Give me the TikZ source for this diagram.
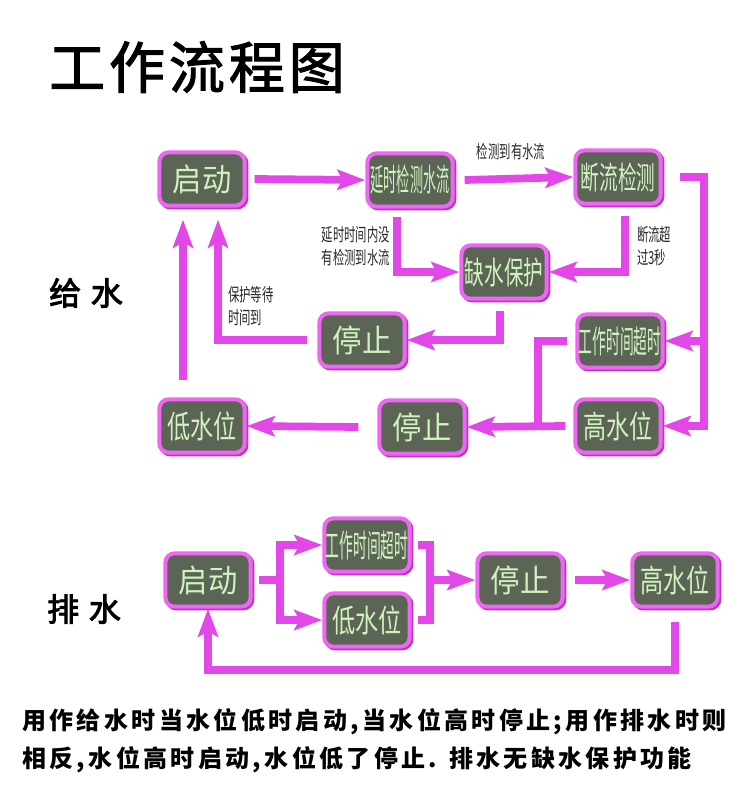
\documentclass[tikz,border=0pt]{standalone}
\usepackage{fontspec}
\usepackage{graphicx}
\usetikzlibrary{arrows.meta,calc}

\newfontfamily\cjk{Noto Sans CJK SC}
\newfontfamily\cjknarrow{Noto Sans CJK SC}[FakeStretch=0.63]
\newfontfamily\cjkspaced{Noto Sans CJK SC}[LetterSpace=14]
\newfontfamily\cjktitle{Noto Sans CJK SC}[LetterSpace=7,FakeBold=2]
\newfontfamily\cjkside{Noto Sans CJK SC}[FakeBold=3]

\definecolor{barmag}{RGB}{226,72,232}
\definecolor{boxmag}{RGB}{236,104,240}
\definecolor{boxshade}{RGB}{190,50,200}
\definecolor{boxfill}{RGB}{92,100,86}
\definecolor{boxtext}{RGB}{206,244,188}
\definecolor{notegray}{RGB}{40,40,40}

\newcommand\fitbox[2]{\resizebox{#1}{20pt}{#2}}

\tikzset{
  stage/.style={rectangle, rounded corners=7pt, draw=boxmag, line width=3pt,
    fill=boxfill, minimum width=64pt, minimum height=40pt, inner sep=0pt,
    text=boxtext, font=\cjk,
    preaction={draw=boxshade, line width=3pt, transform canvas={shift={(1.3pt,-1.3pt)}}}},
  bar/.style={draw=barmag, line width=5.8pt},
  flow/.style={bar, -{Stealth[length=21pt,width=15pt,inset=4pt]}},
  note/.style={font=\cjknarrow\fontsize{13.5pt}{17pt}\selectfont, text=notegray, inner sep=0pt},
}

\begin{document}
\begin{tikzpicture}[x=0.75pt,y=0.75pt,yscale=-1,xscale=1]
\fill[white] (0,0) rectangle (750,800);
\useasboundingbox (0,0) rectangle (750,800);

% Title
\node[font=\cjktitle\fontsize{42pt}{46pt}\selectfont, inner sep=0pt] (title) at (197,67) {工作流程图};
% Side labels
\node[font=\cjkside\fontsize{24pt}{28pt}\selectfont, inner sep=0pt] (supply) at (86,293) {给\hspace{0.3em}水};
\node[font=\cjkside\fontsize{24pt}{28pt}\selectfont, inner sep=0pt] (drain) at (84,609) {排\hspace{0.3em}水};

% Supply boxes
\node[stage] (start1) at (202,179) {\fitbox{44pt}{启动}};
\node[stage] (detect) at (410,180) {\fitbox{59pt}{延时检测水流}};
\node[stage] (cutoff) at (618,177) {\fitbox{56pt}{断流检测}};
\node[stage] (lackwater) at (504,272) {\fitbox{59pt}{缺水保护}};
\node[stage] (stopA) at (362,340) {\fitbox{44pt}{停止}};
\node[stage] (timeout) at (620,341) {\fitbox{62pt}{工作时间超时}};
\node[stage] (lowlvl) at (202,426) {\fitbox{52pt}{低水位}};
\node[stage] (stopB) at (422,427) {\fitbox{44pt}{停止}};
\node[stage] (highlvl) at (618,426) {\fitbox{52pt}{高水位}};

% Drain boxes
\node[stage] (start2) at (208,580) {\fitbox{44pt}{启动}};
\node[stage] (timeout2) at (367,545) {\fitbox{62pt}{工作时间超时}};
\node[stage] (lowlvl2) at (367,620) {\fitbox{52pt}{低水位}};
\node[stage] (stop2) at (520,580) {\fitbox{44pt}{停止}};
\node[stage] (highlvl2) at (675,580) {\fitbox{52pt}{高水位}};

% Notes
\node[note] (n1) at (511,152) {检测到有水流};
\node[note, align=right, anchor=east] (n2) at (390,246) {延时时间内没\\有检测到水流};
\node[note, align=left, anchor=west] (n3) at (637,246) {断流超\\过3秒};
\node[note, align=left, anchor=west] (n4) at (228,306) {保护等待\\时间到};

% Supply connectors
\coordinate (rx) at (704,178);
\coordinate (jx) at (538,427);
\draw[flow] ($(start1.east)+(8,0)$) -- (detect.west);
\draw[flow] ($(detect.east)+(10,0)$) -- (cutoff.west);
\draw[flow] ($(cutoff.east)+(17,0)$) -| (rx |- highlvl) -- (highlvl.east);
\draw[flow] (rx |- timeout.east) -- (timeout.east);
\draw[flow] ($(cutoff.south)+(7,10)$) |- (lackwater.east);
\draw[flow] ($(detect.south)+(-13,8)$) |- (lackwater.west);
\draw[flow] ($(lackwater.south)+(-4,10)$) |- (stopA.east);
\draw[flow] ($(stopA.west)+(-10,0)$) -| ($(start1.south)+(16,12)$);
\draw[flow] ($(lowlvl.north)+(-19,-17)$) -- ($(start1.south)+(-19,12)$);
\draw[bar] ($(timeout.west)+(-8,0)$) -| (jx);
\draw[flow] ($(highlvl.west)+(-8,0)$) -- (stopB.east);
\draw[flow] ($(stopB.west)+(-19,0)$) -- (lowlvl.east);

% Drain connectors
\coordinate (fx) at (280,580);
\coordinate (mx) at (430,580);
\coordinate (by) at (0,670);
\draw[flow] ($(start2.east)+(6,0)$) -| (fx |- timeout2.west) -- (timeout2.west);
\draw[flow] ($(start2.east)+(6,0)$) -| (fx |- lowlvl2.west) -- (lowlvl2.west);
\draw[bar] ($(timeout2.east)+(6,0)$) -| (mx);
\draw[bar] ($(lowlvl2.east)+(6,0)$) -| (mx);
\draw[flow] (mx) -- (stop2.west);
\draw[flow] ($(stop2.east)+(10,0)$) -- (highlvl2.west);
\draw[flow] ($(highlvl2.south)+(0,13)$) |- (by -| start2.south) -- (start2.south);

% Footer
\node[font=\cjkspaced\bfseries\fontsize{18pt}{22pt}\selectfont, anchor=west, inner sep=0pt] (foot1) at (22,722) {用作给水时当水位低时启动,当水位高时停止;用作排水时则};
\node[font=\cjkspaced\bfseries\fontsize{18pt}{22pt}\selectfont, anchor=west, inner sep=0pt] (foot2) at (22,760) {相反,水位高时启动,水位低了停止. 排水无缺水保护功能};
\end{tikzpicture}
\end{document}
